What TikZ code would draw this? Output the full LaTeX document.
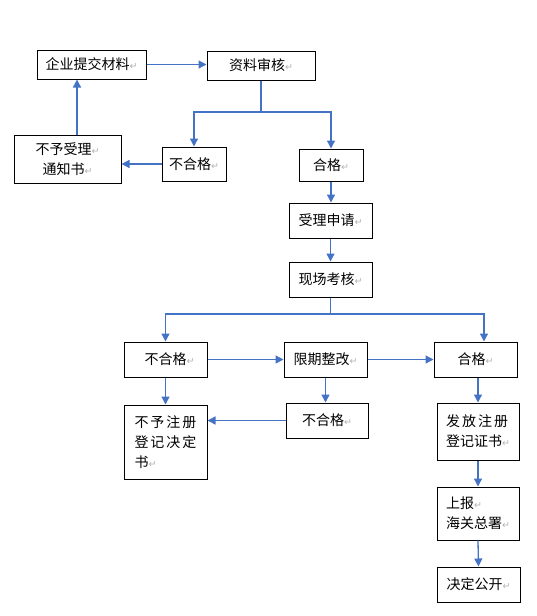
\documentclass[tikz,border=0pt]{standalone}
\usepackage{fontspec}
\setmainfont{Noto Sans CJK SC}
\newfontfamily\symf{DejaVu Sans}
\usetikzlibrary{arrows.meta}
\definecolor{wordblue}{RGB}{68,114,196}
\newcommand{\ret}{{\color{gray!60}\fontsize{9.5}{9.5}\selectfont\symf ↵}}
\begin{document}
\begin{tikzpicture}[x=1pt,y=-1pt,
  box/.style={draw=black, line width=1pt, inner sep=0pt, font=\fontsize{14}{20}\selectfont, align=center},
  lbox/.style={box, align=left},
  link/.style={draw=wordblue, line width=1.3pt},
  arr/.style={link, -{Triangle[length=8pt,width=8pt]}}]
\useasboundingbox (0,0) rectangle (537,616);
\node[box, minimum width=109pt, minimum height=29pt] (b1) at (91.5,64.5) {企业提交材料\ret};
\node[box, minimum width=108pt, minimum height=29pt] (b2) at (261,65.5) {资料审核\ret};
\node[box, minimum width=107pt, minimum height=48pt] (rej1) at (67.5,159) {不予受理\ret\\通知书\ret};
\node[box, minimum width=64pt, minimum height=34pt] (ng1) at (194,164) {不合格\ret};
\node[box, minimum width=64pt, minimum height=32pt] (ok1) at (331,165) {合格\ret};
\node[box, minimum width=83pt, minimum height=35pt] (acc) at (330.5,220.5) {受理申请\ret};
\node[box, minimum width=83pt, minimum height=35pt] (site) at (330.5,279.5) {现场考核\ret};
\node[box, minimum width=83pt, minimum height=35pt] (ng2) at (165.5,359.5) {\hspace{8pt}不合格\ret};
\node[box, minimum width=83pt, minimum height=35pt] (fix) at (325.5,359.5) {限期整改\ret};
\node[box, minimum width=83pt, minimum height=35pt] (ok2) at (475.5,359.5) {合格\ret};
\node[lbox, minimum width=83pt, minimum height=74pt] (rej2) at (165.5,442) {不\hspace{2pt}予\hspace{2pt}注\hspace{2pt}册\\登\hspace{2pt}记\hspace{2pt}决\hspace{2pt}定\\书\ret};
\node[box, minimum width=82pt, minimum height=35pt] (ng3) at (327,420.5) {不合格\ret};
\node[lbox, minimum width=82pt, minimum height=57pt] (cert) at (478,431.5) {发\hspace{2pt}放\hspace{2pt}注\hspace{2pt}册\\登记证书\ret};
\node[lbox, minimum width=82pt, minimum height=53pt] (rep) at (478,513.5) {上报\ret\\海关总署\ret};
\node[box, minimum width=83pt, minimum height=35pt] (pub) at (478.5,584.5) {决定公开\ret};
\coordinate (f1) at (261,112);
\coordinate (f2) at (330.5,314);
\coordinate (f2r) at (484,314);
\coordinate (u) at (77,0);
% connectors
\draw[arr] (b1.east) -- (b1.east -| b2.west);
\draw[link] (b2.south) -- (f1);
\draw[arr] (f1) -| (ng1.north);
\draw[arr] (f1) -| (ok1.north);
\draw[arr] (ng1.west) -- (ng1.west -| rej1.east);
\draw[arr] (rej1.north -| u) -- (b1.south -| u);
\draw[arr] (ok1.south) -- (ok1.south |- acc.north);
\draw[arr] (acc.south) -- (site.north);
\draw[link] (site.south) -- (f2);
\draw[arr] (f2) -| (ng2.north);
\draw[arr] (f2) -- (f2r) -- (f2r |- ok2.north);
\draw[arr] (ng2.east) -- (fix.west);
\draw[arr] (fix.east) -- (ok2.west);
\draw[arr] (ng2.south) -- (rej2.north);
\draw[arr] (fix.south) -- (fix.south |- ng3.north);
\draw[arr] (ng3.west) -- (ng3.west -| rej2.east);
\draw[arr] (cert.north |- ok2.south) -- (cert.north);
\draw[arr] (cert.south) -- (rep.north);
\draw[arr] (rep.south) -- (pub.north);
\end{tikzpicture}
\end{document}
